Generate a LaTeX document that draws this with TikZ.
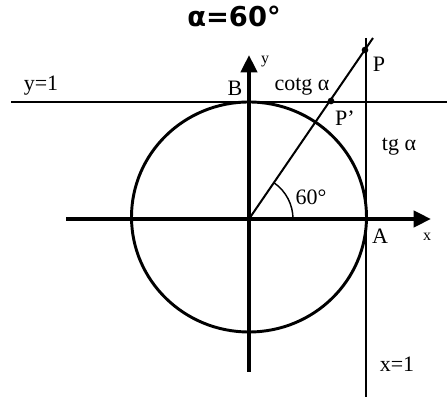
\documentclass[tikz,border=0pt]{standalone}
\usepackage{fontspec}
\setmainfont{Liberation Serif}
\newfontfamily\titlefont{DejaVu Sans}
\usepackage{tikz}
\usetikzlibrary{arrows.meta,positioning}

\begin{document}
\begin{tikzpicture}[
  x=0.75pt, y=-0.75pt,
  font=\fontsize{16.5}{18}\selectfont,
  axis/.style={line width=3pt, -{Triangle[length=13pt, width=12pt]}},
  thin line/.style={line width=1.5pt},
  circ/.style={line width=2.2pt},
  dot/.style={circle, fill, inner sep=0pt, minimum size=5pt},
  lbl/.style={inner sep=1pt},
  small/.style={font=\fontsize{12}{14}\selectfont, inner sep=1pt}
]
  \useasboundingbox (0,0) rectangle (447,398);

  % title
  \node[font=\titlefont\bfseries\fontsize{20.5}{22}\selectfont] (title) at (234,16) {α=60°};

  % points
  \coordinate (O) at (249,219);
  \coordinate (C) at (249,217);
  \coordinate (xl) at (66,219);
  \coordinate (xr) at (431,219);
  \coordinate (yb) at (249,372);
  \coordinate (yt) at (249,55);
  \coordinate (l1) at (11,102);
  \coordinate (l2) at (447,102);
  \coordinate (v1) at (366,38);
  \coordinate (v2) at (366,397);
  \coordinate (rayend) at (373,38);
  \coordinate (A) at (366,219);
  \coordinate (B) at (249,102);

  % unit circle
  \draw[circ] (C) ellipse (117.5 and 115);

  % lines y=1 and x=1
  \draw[thin line] (l1) -- (l2);
  \draw[thin line] (v1) -- (v2);

  % axes
  \draw[axis] (xl) -- (xr);
  \draw[axis] (yb) -- (yt);

  % ray at the angle
  \draw[thin line] (O) -- (rayend);
  \node[dot] (P) at (365,50) {};
  \node[dot] (Pp) at (331,101) {};
  \draw[line width=1.1pt] (293,219) arc[start angle=0, end angle=-55, radius=44];

  % labels
  \node[lbl] (ly1) at (41,86) {y=1};
  \node[lbl] (lB) at (235,88) {B};
  \node[lbl] (lcot) at (302,87) {cotg α};
  \node[lbl] (lP) at (379,64) {P};
  \node[lbl] (lPp) at (345,118) {P’};
  \node[lbl] (ltg) at (399,147) {tg α};
  \node[lbl] (l60) at (311,197) {60°};
  \node[lbl] (lA) at (380,236) {A};
  \node[small] (lx) at (427,237) {x};
  \node[small] (ly) at (265,62) {y};
  \node[lbl] (lx1) at (397,364) {x=1};
\end{tikzpicture}
\end{document}
